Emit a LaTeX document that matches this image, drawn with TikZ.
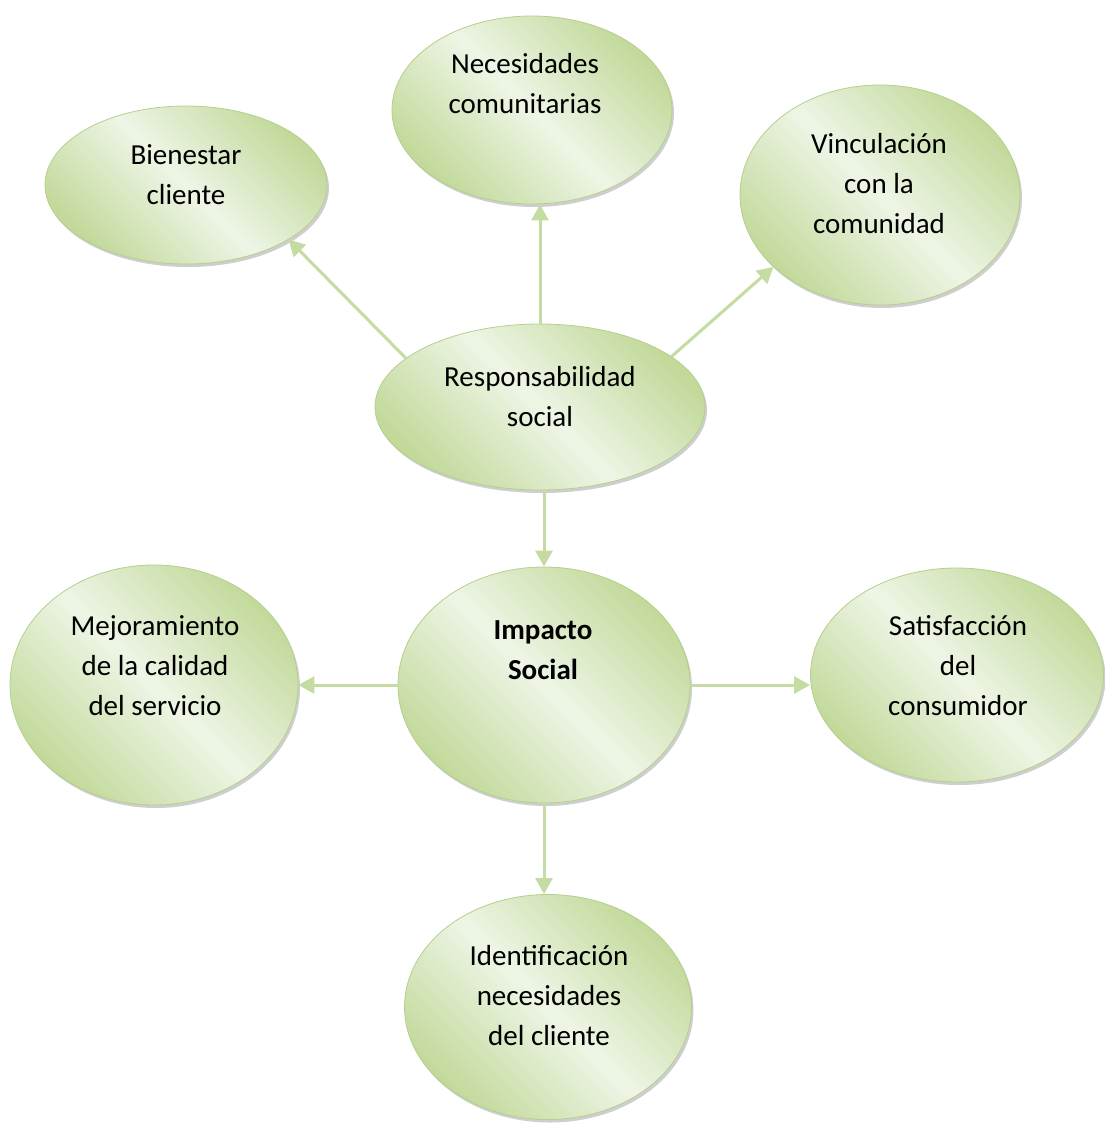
\documentclass[tikz,border=0pt]{standalone}
\usepackage{fontspec}
\setmainfont{Carlito}
\usepackage{tikz}
\usetikzlibrary{
    arrows.meta,  % arrow tips
    shapes.geometric,  % ellipse nodes
    shadows,  % drop shadows
    positioning,  % relative positioning
}
\definecolor{leafdark}{HTML}{C2D99A}
\definecolor{leaflight}{HTML}{EEF5E6}
\definecolor{leafedge}{HTML}{B5CF8C}
\definecolor{linkgreen}{HTML}{C4DCA2}
\tikzset{
    bubble/.style={ellipse, draw=leafedge, line width=0.8pt,
        left color=leafdark, right color=leafdark, middle color=leaflight,
        shading angle=135,
        drop shadow={shadow xshift=2pt, shadow yshift=-3pt, opacity=0.35, fill=black!55}},
    lbl/.style={align=center, font=\fontsize{29}{40}\selectfont, text=black, inner sep=0pt},
    link/.style={draw=linkgreen, line width=3pt, -{Triangle[length=16pt, width=17pt]}},
}

\begin{document}
\begin{tikzpicture}[x=1pt, y=-1pt]
    \useasboundingbox (0, 0) rectangle (1105, 1127);

    % ellipses
    \node[bubble, minimum width=282pt, minimum height=158pt] (bien) at (186, 185) {};
    \node[bubble, minimum width=280pt, minimum height=188pt] (nec) at (532, 110) {};
    \node[bubble, minimum width=280pt, minimum height=220pt] (vinc) at (880, 195) {};
    \node[bubble, minimum width=330pt, minimum height=166pt] (resp) at (540, 407) {};
    \node[bubble, minimum width=292pt, minimum height=236pt] (imp) at (544, 685) {};
    \node[bubble, minimum width=288pt, minimum height=240pt] (mej) at (154, 685) {};
    \node[bubble, minimum width=293pt, minimum height=214pt] (sat) at (957, 675) {};
    \node[bubble, minimum width=287pt, minimum height=225pt] (ident) at (548, 1007) {};

    % texts
    \node[lbl] (bienT) at (186, 175) {Bienestar\\cliente};
    \node[lbl] (necT) at (525, 84) {Necesidades\\comunitarias};
    \node[lbl] (vincT) at (879, 184) {Vinculación\\con la\\comunidad};
    \node[lbl] (respT) at (540, 397) {Responsabilidad\\social};
    \node[lbl, font=\fontsize{29}{40}\selectfont\bfseries] (impT) at (543, 650) {Impacto\\Social};
    \node[lbl] (mejT) at (155, 666) {Mejoramiento\\de la calidad\\del servicio};
    \node[lbl] (satT) at (958, 666) {Satisfacción\\del\\consumidor};
    \node[lbl] (identT) at (549, 996) {Identificación\\necesidades\\del cliente};

    % arrows
    \draw[link] (resp.160) -- (bien.-28);
    \draw[link] (resp) -- (resp |- nec.south);
    \draw[link] (resp.21) -- (vinc.214);
    \draw[link] (imp.north |- resp.south) -- (imp.north);
    \draw[link] (imp) -- (mej);
    \draw[link] (imp.east) -- (imp.east -| sat.west);
    \draw[link] (imp.south) -- (imp.south |- ident.north);
\end{tikzpicture}
\end{document}
